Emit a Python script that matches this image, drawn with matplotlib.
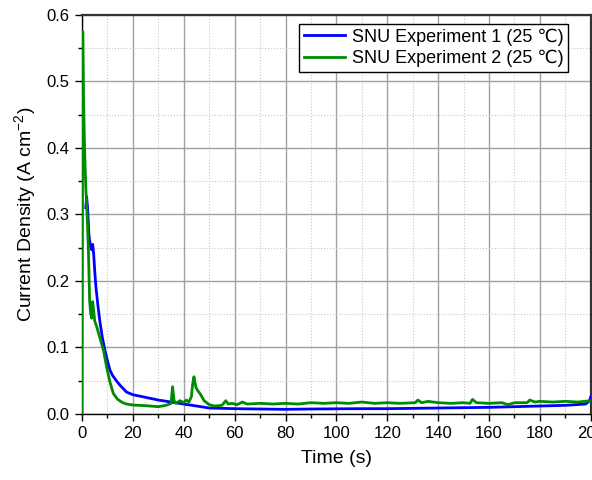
"""Current density vs time for two SNU experiments at 25 C."""

import matplotlib
matplotlib.use("Agg")
import matplotlib.pyplot as plt
from matplotlib.ticker import MultipleLocator

plt.rcParams['font.family'] = ['Liberation Sans', 'DejaVu Sans']
plt.rcParams['mathtext.fontset'] = 'custom'
plt.rcParams['mathtext.rm'] = 'Liberation Sans'
plt.rcParams['mathtext.it'] = 'Liberation Sans:italic'

# SNU Experiment 1 (blue)
t_exp1 = [1.5, 1.8, 2.2, 2.7, 3.2, 3.8, 4.2, 4.6, 5.0, 5.5, 6.2, 7.0, 8.0,
          9.0, 10.0, 11.0, 12.0, 13.5, 15.0, 17.5, 20.0, 25.0, 30.0, 35.0,
          40.0, 45.0, 50.0, 55.0, 60.0, 70.0, 80.0, 90.0, 100.0, 110.0, 120.0,
          130.0, 140.0, 150.0, 160.0, 170.0, 180.0, 190.0, 198.0, 199.5, 200.0]
j_exp1 = [0.31, 0.327, 0.31, 0.27, 0.255, 0.247, 0.255, 0.24, 0.215, 0.19,
          0.165, 0.14, 0.115, 0.096, 0.08, 0.066, 0.058, 0.05, 0.043, 0.033,
          0.029, 0.025, 0.021, 0.018, 0.015, 0.012, 0.009, 0.0085, 0.008,
          0.0075, 0.007, 0.0075, 0.0078, 0.008, 0.008, 0.0085, 0.009, 0.0095,
          0.010, 0.011, 0.012, 0.013, 0.015, 0.02, 0.026]

# SNU Experiment 2 (green)
t_exp2 = [0.0, 0.3, 0.6, 1.0, 1.5, 2.0, 2.5, 3.0, 3.4, 3.8, 4.2, 4.6, 5.0, 5.8,
          7.0, 8.5, 9.7, 11.0, 12.3, 14.0, 16.0, 17.5, 20.0, 25.0, 30.0, 33.0,
          35.0, 35.6, 36.2, 37.0, 38.5, 40.0, 41.0, 42.0, 43.0, 43.5, 44.0,
          44.8, 45.5, 46.5, 48.0, 50.0, 52.0, 55.0, 56.5, 57.5, 59.0, 61.0,
          63.0, 65.0, 70.0, 75.0, 80.0, 85.0, 90.0, 95.0, 100.0, 105.0, 110.0,
          115.0, 120.0, 125.0, 131.0, 132.0, 133.5, 136.0, 140.0, 145.0, 150.0,
          152.5, 153.5, 155.0, 160.0, 165.0, 167.5, 170.0, 175.0, 176.0, 178.0,
          180.0, 185.0, 190.0, 195.0, 200.0]
j_exp2 = [0.0, 0.575, 0.48, 0.40, 0.34, 0.30, 0.25, 0.17, 0.152, 0.144, 0.169,
          0.155, 0.14, 0.131, 0.115, 0.095, 0.07, 0.048, 0.031, 0.022, 0.017,
          0.015, 0.0135, 0.0125, 0.011, 0.013, 0.016, 0.041, 0.02, 0.016, 0.02,
          0.017, 0.021, 0.018, 0.026, 0.045, 0.056, 0.04, 0.035, 0.03, 0.02,
          0.014, 0.012, 0.013, 0.02, 0.015, 0.016, 0.014, 0.018, 0.015, 0.016,
          0.015, 0.016, 0.015, 0.017, 0.016, 0.017, 0.016, 0.018, 0.016, 0.017,
          0.016, 0.017, 0.021, 0.017, 0.019, 0.017, 0.016, 0.017, 0.016, 0.022,
          0.017, 0.016, 0.017, 0.014, 0.017, 0.017, 0.021, 0.018, 0.019, 0.018,
          0.019, 0.018, 0.02]

fig = plt.figure(figsize=(5.92, 4.8), dpi=100)
ax = fig.add_axes([0.1385, 0.1375, 0.8595, 0.8315])

ax.plot(t_exp1, j_exp1, color='#0000ff', linewidth=2.0,
        label='SNU Experiment 1 (25 \u2103)', zorder=3)
ax.plot(t_exp2, j_exp2, color='#008c00', linewidth=2.0,
        label='SNU Experiment 2 (25 \u2103)', zorder=4)

ax.set_xlim(0, 200)
ax.set_ylim(0, 0.6)
ax.xaxis.set_major_locator(MultipleLocator(20))
ax.xaxis.set_minor_locator(MultipleLocator(10))
ax.yaxis.set_major_locator(MultipleLocator(0.1))
ax.yaxis.set_minor_locator(MultipleLocator(0.05))

ax.grid(which='major', color='#a0a0a0', linewidth=1.0, linestyle='-')
ax.grid(which='minor', color='#c8c8c8', linewidth=0.8, linestyle=':')
ax.set_axisbelow(True)

ax.tick_params(which='major', direction='out', length=5, width=1.0,
               labelsize=12, colors='black', pad=4)
ax.tick_params(which='minor', direction='out', length=3, width=1.0)
for side in ['left', 'bottom']:
    ax.spines[side].set_linewidth(1.0)
for side in ['top', 'right']:
    ax.spines[side].set_linewidth(1.6)
    ax.spines[side].set_color('#333333')

ax.set_xlabel('Time (s)', fontsize=14, labelpad=6)
ax.set_ylabel('Current Density (A cm$^{-2}$)', fontsize=14, labelpad=6)

leg = ax.legend(loc='upper right', fontsize=13, frameon=True, fancybox=False,
                framealpha=1.0, edgecolor='black', handlelength=2.3,
                borderpad=0.25, labelspacing=0.25, handletextpad=0.35,
                borderaxespad=0.0, bbox_to_anchor=(0.955, 0.978))
leg.get_frame().set_linewidth(1.0)

fig.savefig('out.png', dpi=100)
